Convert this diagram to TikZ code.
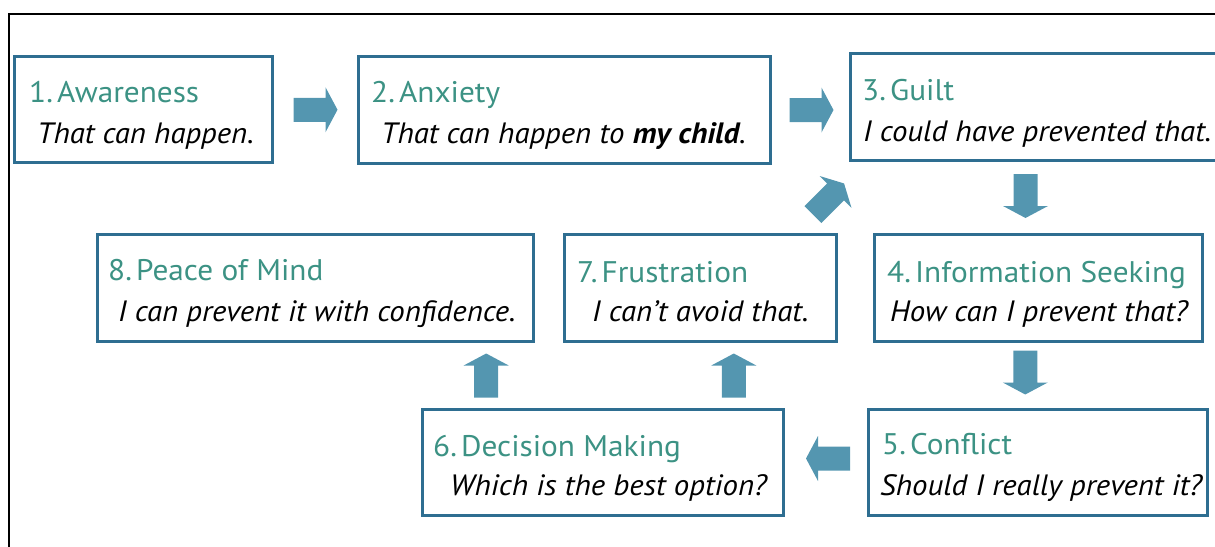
\documentclass[tikz,border=0pt]{standalone}
\usepackage{fontspec}
\setmainfont{PT Sans}[FakeStretch=1.05]
\usetikzlibrary{calc}
\definecolor{boxline}{RGB}{46,110,145}
\definecolor{arrowfill}{RGB}{84,150,176}
\definecolor{titlecol}{RGB}{60,146,132}
\newcommand{\numgap}{\hspace{0.14em}}
\begin{document}
\begin{tikzpicture}[x=1pt,y=-1pt,
  stage/.style={draw=boxline, line width=2.6pt, rectangle, inner sep=0pt},
  ttl/.style={anchor=base west, inner sep=0pt, text=titlecol, font=\fontsize{29.8}{31}\selectfont},
  txt/.style={anchor=base west, inner sep=0pt, text=black, font=\fontsize{29.4}{32}\selectfont\itshape},
  blockarrow/.pic={\fill[arrowfill] (-22,-12) -- (10,-12) -- (10,-22.5) -- (22,0) -- (10,22.5) -- (10,12) -- (-22,12) -- cycle;}
]
\useasboundingbox (0,0) rectangle (1215,546);

% outer frame (top and left edges)
\draw[line width=2pt] (9,550) -- (9,14) -- (1220,14);

% stage boxes
\node[stage, minimum width=258pt, minimum height=106pt] (n1) at (143.5,109.5) {};
\node[stage, minimum width=412pt, minimum height=107pt] (n2) at (564.5,110) {};
\node[stage, minimum width=389pt, minimum height=107pt] (n3) at (1045,107) {};
\node[stage, minimum width=328pt, minimum height=107pt] (n4) at (1038.5,288) {};
\node[stage, minimum width=339pt, minimum height=106pt] (n5) at (1038,462.5) {};
\node[stage, minimum width=361pt, minimum height=106pt] (n6) at (603,462.5) {};
\node[stage, minimum width=272pt, minimum height=107pt] (n7) at (700.5,288) {};
\node[stage, minimum width=436pt, minimum height=107pt] (n8) at (315.5,288) {};

% stage texts
\node[ttl] (t1) at (29,102) {1.\numgap Awareness};
\node[txt] (d1) at (37,143) {That can happen.};
\node[ttl] (t2) at (371,102) {2.\numgap Anxiety};
\node[txt] (d2) at (381,143) {That can happen to \textbf{my child}.};
\node[ttl] (t3) at (862,100) {3.\numgap Guilt};
\node[txt] (d3) at (863,141) {I could have prevented that.};
\node[ttl] (t4) at (887,282) {4.\numgap Information Seeking};
\node[txt] (d4) at (890,321) {How can I prevent that?};
\node[ttl] (t5) at (882,454) {5.\numgap Conflict};
\node[txt] (d5) at (880,495) {Should I really prevent it?};
\node[ttl] (t6) at (433,456) {6.\numgap Decision Making};
\node[txt] (d6) at (450,495) {Which is the best option?};
\node[ttl] (t7) at (577,282) {7.\numgap Frustration};
\node[txt] (d7) at (592,321) {I can’t avoid that.};
\node[ttl] (t8) at (108,280) {8.\numgap Peace of Mind};
\node[txt] (d8) at (118,321) {I can prevent it with confidence.};

% block arrows between the stages
\pic at ($(n1.east)!0.5!(n2.west)$) {blockarrow};
\pic at ($(n2.east)!0.5!(n3.west |- n2.east)+(1,0)$) {blockarrow};
\pic[rotate=-90] at ($(n3.south -| n4.north)!0.5!(n4.north)+(-13,-1.5)$) {blockarrow};
\pic[rotate=-90] at ($(n4.south)!0.5!(n5.north)+(-13,-3)$) {blockarrow};
\pic[rotate=180] at ($(n5.west)!0.5!(n6.east)+(2,-4)$) {blockarrow};
\pic[rotate=90] at ($(n6.north west)!0.5!(n6.north west |- n8.south)+(65,0)$) {blockarrow};
\pic[rotate=90] at ($(n6.north east)!0.5!(n6.north east |- n7.south)+(-51,0)$) {blockarrow};
\pic[rotate=45] at ($(n7.north east)!0.5!(n3.south west)+(-15,1.5)$) {blockarrow};
\end{tikzpicture}
\end{document}
